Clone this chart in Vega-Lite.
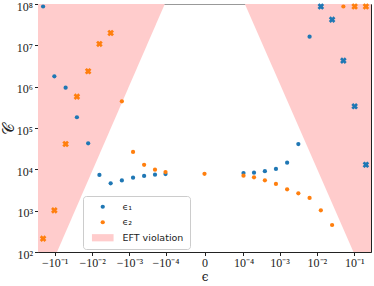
{
  "$schema": "https://vega.github.io/schema/vega-lite/v6.json",
  "width": 333,
  "height": 248,
  "autosize": {"type": "none"},
  "padding": {"left": 38, "top": 4, "right": 3, "bottom": 34},
  "background": "white",
  "datasets": {
    "eft": [
      {"eps": -0.28, "C": 100, "C2": 100000000, "series": "EFT violation", "side": "L"},
      {"eps": -0.087, "C": 100, "C2": 100000000, "series": "EFT violation", "side": "L"},
      {"eps": -0.000105, "C": 100000000, "C2": 100000000, "series": "EFT violation", "side": "L"},
      {"eps": 0.00011, "C": 100000000, "C2": 100000000, "series": "EFT violation", "side": "R"},
      {"eps": 0.095, "C": 100, "C2": 100000000, "series": "EFT violation", "side": "R"},
      {"eps": 0.28, "C": 100, "C2": 100000000, "series": "EFT violation", "side": "R"}
    ],
    "circles": [
      {"eps": -0.2048, "C": 87000000, "series": "ϵ₁"},
      {"eps": -0.1024, "C": 1780000, "series": "ϵ₁"},
      {"eps": -0.0512, "C": 945000, "series": "ϵ₁"},
      {"eps": -0.0256, "C": 182000, "series": "ϵ₁"},
      {"eps": -0.0128, "C": 42700, "series": "ϵ₁"},
      {"eps": -0.0064, "C": 7300, "series": "ϵ₁"},
      {"eps": -0.0032, "C": 4600, "series": "ϵ₁"},
      {"eps": -0.0016, "C": 5400, "series": "ϵ₁"},
      {"eps": -0.0008, "C": 6300, "series": "ϵ₁"},
      {"eps": -0.0004, "C": 6900, "series": "ϵ₁"},
      {"eps": -0.0002, "C": 7400, "series": "ϵ₁"},
      {"eps": -0.0001, "C": 7700, "series": "ϵ₁"},
      {"eps": 0.0001, "C": 8100, "series": "ϵ₁"},
      {"eps": 0.0002, "C": 8300, "series": "ϵ₁"},
      {"eps": 0.0004, "C": 9000, "series": "ϵ₁"},
      {"eps": 0.0008, "C": 10200, "series": "ϵ₁"},
      {"eps": 0.0016, "C": 14500, "series": "ϵ₁"},
      {"eps": 0.0032, "C": 41000, "series": "ϵ₁"},
      {"eps": 0.0064, "C": 16200000, "series": "ϵ₁"},
      {"eps": -0.0016, "C": 443000, "series": "ϵ₂"},
      {"eps": -0.0008, "C": 26300, "series": "ϵ₂"},
      {"eps": -0.0004, "C": 12900, "series": "ϵ₂"},
      {"eps": -0.0002, "C": 9800, "series": "ϵ₂"},
      {"eps": -0.0001, "C": 8600, "series": "ϵ₂"},
      {"eps": 0, "C": 7800, "series": "ϵ₂"},
      {"eps": 0.0001, "C": 7000, "series": "ϵ₂"},
      {"eps": 0.0002, "C": 6400, "series": "ϵ₂"},
      {"eps": 0.0004, "C": 5430, "series": "ϵ₂"},
      {"eps": 0.0008, "C": 4420, "series": "ϵ₂"},
      {"eps": 0.0016, "C": 3290, "series": "ϵ₂"},
      {"eps": 0.0032, "C": 2630, "series": "ϵ₂"},
      {"eps": 0.0064, "C": 2030, "series": "ϵ₂"},
      {"eps": 0.0128, "C": 1020, "series": "ϵ₂"},
      {"eps": 0.0256, "C": 450, "series": "ϵ₂"},
      {"eps": 0.0512, "C": 87000000, "series": "ϵ₂"}
    ],
    "crosses": [
      {"eps": 0.0128, "C": 87000000, "series": "ϵ₁"},
      {"eps": 0.0256, "C": 41800000, "series": "ϵ₁"},
      {"eps": 0.0512, "C": 4260000, "series": "ϵ₁"},
      {"eps": 0.1024, "C": 335000, "series": "ϵ₁"},
      {"eps": 0.2048, "C": 12900, "series": "ϵ₁"},
      {"eps": -0.2048, "C": 210, "series": "ϵ₂"},
      {"eps": -0.1024, "C": 1020, "series": "ϵ₂"},
      {"eps": -0.0512, "C": 41000, "series": "ϵ₂"},
      {"eps": -0.0256, "C": 573000, "series": "ϵ₂"},
      {"eps": -0.0128, "C": 2360000, "series": "ϵ₂"},
      {"eps": -0.0064, "C": 10800000, "series": "ϵ₂"},
      {"eps": -0.0032, "C": 19900000, "series": "ϵ₂"},
      {"eps": 0.1024, "C": 87000000, "series": "ϵ₂"},
      {"eps": 0.2048, "C": 87000000, "series": "ϵ₂"}
    ]
  },
  "layer": [
    {
      "data": {"name": "eft"},
      "mark": {"type": "area", "opacity": 1, "interpolate": "linear"},
      "encoding": {
        "x": {"field": "eps", "type": "quantitative", "scale": {"type": "symlog", "constant": 0.00001, "domain": [-0.28, 0.28], "nice": false, "zero": false},
          "axis": {"title": "ϵ", "values": [-0.1, -0.01, -0.001, -0.0001, 0, 0.0001, 0.001, 0.01, 0.1],
            "labelExpr": "datum.value == 0 ? '0' : (datum.value < 0 ? '−10' : '10') + (abs(datum.value) > 0.05 ? '⁻¹' : abs(datum.value) > 0.005 ? '⁻²' : abs(datum.value) > 0.0005 ? '⁻³' : '⁻⁴')",
            "labelFlush": false, "labelOverlap": false, "titleFont": "DejaVu Serif", "titleFontSize": 12, "titleFontWeight": "normal", "titlePadding": 3}},
        "y": {"field": "C", "type": "quantitative", "scale": {"type": "log", "domain": [100, 100000000], "nice": false}, "axis": {"orient": "right", "labels": false, "ticks": false, "title": null, "grid": false}},
        "y2": {"field": "C2"},
        "detail": {"field": "side"},
        "color": {"field": "series", "type": "nominal"}
      }
    },
    {
      "data": {"name": "circles"},
      "mark": {"type": "point", "filled": true, "opacity": 1, "size": 18},
      "encoding": {
        "x": {"field": "eps", "type": "quantitative", "scale": {"type": "symlog", "constant": 0.00001, "domain": [-0.28, 0.28], "nice": false, "zero": false},
          "axis": {"title": "ϵ", "values": [-0.1, -0.01, -0.001, -0.0001, 0, 0.0001, 0.001, 0.01, 0.1],
            "labelExpr": "datum.value == 0 ? '0' : (datum.value < 0 ? '−10' : '10') + (abs(datum.value) > 0.05 ? '⁻¹' : abs(datum.value) > 0.005 ? '⁻²' : abs(datum.value) > 0.0005 ? '⁻³' : '⁻⁴')",
            "labelFlush": false, "labelOverlap": false, "titleFont": "DejaVu Serif", "titleFontSize": 12, "titleFontWeight": "normal", "titlePadding": 3}},
        "y": {"field": "C", "type": "quantitative", "scale": {"type": "log", "domain": [100, 100000000], "nice": false},
          "axis": {"orient": "left", "values": [100, 1000, 10000, 100000, 1000000, 10000000, 100000000],
            "labelExpr": "'10' + (datum.value > 5e7 ? '⁸' : datum.value > 5e6 ? '⁷' : datum.value > 5e5 ? '⁶' : datum.value > 5e4 ? '⁵' : datum.value > 5e3 ? '⁴' : datum.value > 500 ? '³' : '²')",
            "labelOffset": 2, "labelFlush": false,
            "title": "𝒞", "titleAngle": -90, "titleX": -30, "titleY": 124, "titleFontSize": 16, "titleFont": "DejaVu Serif", "titleFontWeight": "normal", "titleAlign": "center", "titleBaseline": "middle"}},
        "color": {"field": "series", "type": "nominal", "scale": {"domain": ["ϵ₁", "ϵ₂", "EFT violation"], "range": ["#1f77b4", "#ff7f0e", "#ffcccc"]},
          "legend": {"title": null, "orient": "none", "legendX": 45, "legendY": 192}},
        "shape": {"field": "series", "type": "nominal", "scale": {"domain": ["ϵ₁", "ϵ₂", "EFT violation"], "range": ["circle", "circle", "M-5.1,-1.7H5.1V1.7H-5.1Z"]},
          "legend": {"title": null, "orient": "none", "legendX": 45, "legendY": 192}}
      }
    },
    {
      "data": {"name": "crosses"},
      "mark": {"type": "point", "filled": true, "opacity": 1, "size": 45, "shape": "cross", "angle": 45},
      "encoding": {
        "x": {"field": "eps", "type": "quantitative", "scale": {"type": "symlog", "constant": 0.00001, "domain": [-0.28, 0.28], "nice": false, "zero": false},
          "axis": {"title": "ϵ", "values": [-0.1, -0.01, -0.001, -0.0001, 0, 0.0001, 0.001, 0.01, 0.1],
            "labelExpr": "datum.value == 0 ? '0' : (datum.value < 0 ? '−10' : '10') + (abs(datum.value) > 0.05 ? '⁻¹' : abs(datum.value) > 0.005 ? '⁻²' : abs(datum.value) > 0.0005 ? '⁻³' : '⁻⁴')",
            "labelFlush": false, "labelOverlap": false, "titleFont": "DejaVu Serif", "titleFontSize": 12, "titleFontWeight": "normal", "titlePadding": 3}},
        "y": {"field": "C", "type": "quantitative", "scale": {"type": "log", "domain": [100, 100000000], "nice": false}, "axis": null},
        "color": {"field": "series", "type": "nominal"}
      }
    }
  ],
  "resolve": {"axis": {"y": "independent"}},
  "config": {
    "view": {"stroke": "#999999", "strokeWidth": 1},
    "axis": {"grid": false, "domainColor": "#222222", "tickColor": "#222222", "tickSize": 3.5, "labelPadding": 2, "labelFont": "Liberation Serif", "labelFontSize": 12, "labelColor": "#222222", "titleColor": "#222222"},
    "legend": {
      "fillColor": "rgba(255,255,255,0.8)", "strokeColor": "#cccccc", "cornerRadius": 3, "padding": 6,
      "labelFont": "DejaVu Sans", "labelFontSize": 9.5, "labelColor": "#222222",
      "symbolSize": 18, "symbolOpacity": 1, "symbolStrokeWidth": 0, "symbolOffset": 9, "labelOffset": 15, "rowPadding": 4.5
    }
  }
}
